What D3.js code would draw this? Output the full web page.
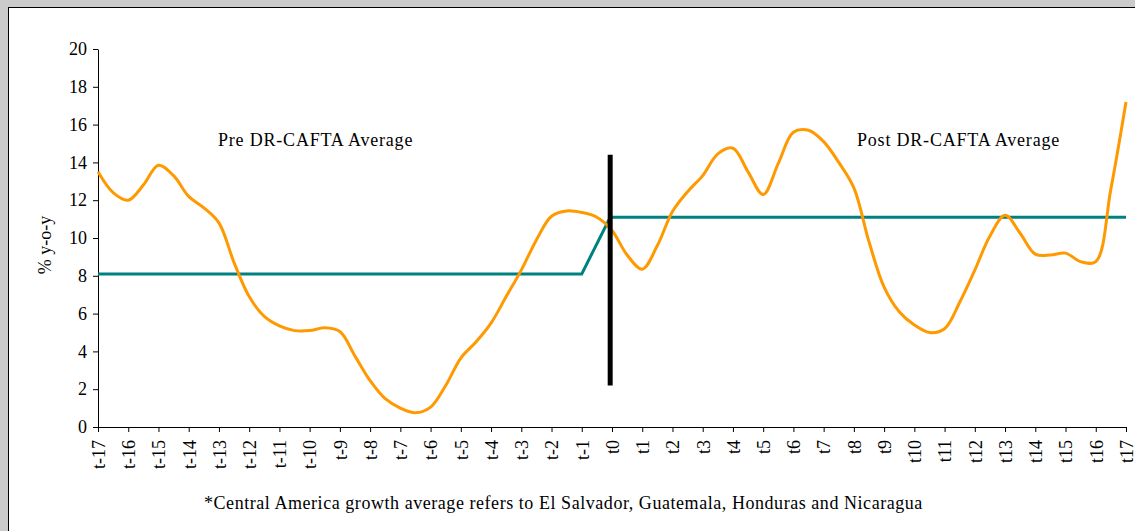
<!DOCTYPE html>
<html>
<head>
<meta charset="utf-8">
<script src="https://cdn.jsdelivr.net/npm/d3@7"></script>
<style>
  body { margin: 0; background: #cbcbcb; }
  svg { display: block; font-family: "Liberation Serif", "Times New Roman", serif; }
</style>
</head>
<body>
<div id="chart"></div>
<script>
// growth series, read every half period from t-17 to t17
var periods = d3.range(-17, 17.01, 0.5);
var growth = [13.5, 12.4, 12.0, 12.8, 13.85, 13.3, 12.2, 11.6, 10.8, 8.7,
  6.9, 5.85, 5.35, 5.1, 5.1, 5.25, 5.05, 3.75, 2.45, 1.5,
  1.0, 0.75, 1.05, 2.2, 3.65, 4.5, 5.5, 6.9, 8.3, 9.9,
  11.15, 11.43, 11.35, 11.1, 10.4, 9.1, 8.35, 9.6, 11.4, 12.45,
  13.3, 14.45, 14.75, 13.5, 12.3, 13.95, 15.6, 15.7, 15.1, 14.0,
  12.65, 9.8, 7.4, 6.1, 5.4, 5.0, 5.2, 6.6, 8.3, 10.1,
  11.2, 10.25, 9.15, 9.1, 9.2, 8.75, 8.75, 12.6, 17.2];

// pre / post DR-CAFTA averages
var avgT = [-17, -1, -0.06, 17];
var avgV = [8.1, 8.1, 11.1, 11.1];

// DR-CAFTA marker
var markerT = -0.06;
var markerRange = [2.2, 14.4];

var tickLabels = d3.range(-17, 18).map(function(d) { return "t" + d; });
var yTicks = d3.range(0, 21, 2);

var width = 1135, height = 531;

var svg = d3.select("#chart").append("svg")
    .attr("width", width)
    .attr("height", height);

// white panel
svg.append("rect")
    .attr("x", 8.5).attr("y", 7.5)
    .attr("width", width).attr("height", height)
    .attr("fill", "#fff")
    .attr("stroke", "#000")
    .attr("stroke-width", 1);

var xScale = d3.scaleLinear().domain([-17, 17]).range([98, 1126]);
var yScale = d3.scaleLinear().domain([0, 20]).range([427, 49]);

var xAxis = d3.axisBottom(xScale)
    .tickValues(d3.range(-17, 18))
    .tickFormat(function(d, i) { return tickLabels[i]; })
    .tickSize(5).tickSizeOuter(0);
var yAxis = d3.axisLeft(yScale)
    .tickValues(yTicks)
    .tickSize(5).tickSizeOuter(0).tickPadding(6);

var gx = svg.append("g").attr("transform", "translate(0," + yScale(0) + ")").call(xAxis);
gx.selectAll("text")
    .attr("transform", "rotate(-90)")
    .attr("text-anchor", "end")
    .attr("x", -13).attr("y", 0).attr("dy", "0.35em")
    .attr("font-size", "18px").attr("fill", "#000")
    .style("font-family", "Liberation Serif");

var gy = svg.append("g").attr("transform", "translate(" + xScale(-17) + ",0)").call(yAxis);
gy.selectAll("text")
    .attr("font-size", "18px").attr("fill", "#000")
    .style("font-family", "Liberation Serif");

svg.selectAll(".domain, .tick line").attr("stroke", "#000");

// averages
svg.append("path")
    .datum(avgT.map(function(t, i) { return [t, avgV[i]]; }))
    .attr("fill", "none")
    .attr("stroke", "#008080")
    .attr("stroke-width", 3)
    .attr("d", d3.line().x(d => xScale(d[0])).y(d => yScale(d[1])));

// growth line
svg.append("path")
    .datum(periods.map(function(t, i) { return [t, growth[i]]; }))
    .attr("fill", "none")
    .attr("stroke", "#ff9900")
    .attr("stroke-width", 3)
    .attr("d", d3.line().curve(d3.curveCatmullRom.alpha(0.5))
        .x(d => xScale(d[0])).y(d => yScale(d[1])));

// DR-CAFTA marker
svg.append("line")
    .attr("x1", xScale(markerT)).attr("x2", xScale(markerT))
    .attr("y1", yScale(markerRange[0])).attr("y2", yScale(markerRange[1]))
    .attr("stroke", "#000")
    .attr("stroke-width", 5);

// y title
svg.append("text")
    .attr("transform", "translate(51,245) rotate(-90)")
    .attr("text-anchor", "middle")
    .attr("font-size", "18px")
    .text("% y-o-y");

svg.append("text")
    .attr("x", 218).attr("y", 146)
    .attr("font-size", "18px")
    .attr("letter-spacing", "0.8px")
    .text("Pre DR-CAFTA Average");

svg.append("text")
    .attr("x", 857).attr("y", 146)
    .attr("font-size", "18px")
    .attr("letter-spacing", "0.8px")
    .text("Post DR-CAFTA Average");

svg.append("text")
    .attr("x", 204).attr("y", 509)
    .attr("font-size", "18px")
    .attr("letter-spacing", "0.55px")
    .text("*Central America growth average refers to El Salvador, Guatemala, Honduras and Nicaragua");
</script>
</body>
</html>
